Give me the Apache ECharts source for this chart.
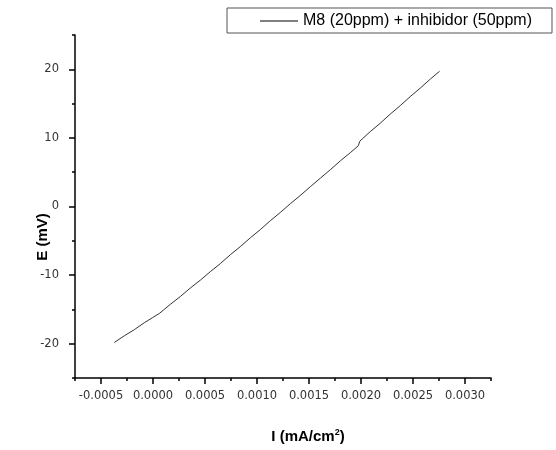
<!DOCTYPE html>
<html>
<head>
<meta charset="utf-8">
<script src="https://cdn.jsdelivr.net/npm/echarts@6/dist/echarts.min.js"></script>
<style>
  html, body { margin: 0; padding: 0; background: #fff; }
  #chart { width: 556px; height: 450px; }
</style>
</head>
<body>
<div id="chart"></div>
<script>
// Polarisation curve: current density (mA/cm²) vs potential (mV)
const seriesName = 'M8 (20ppm) + inhibidor (50ppm)';

const currentDensity = [
  -0.000372, -0.000276, -0.000180, -0.000084, -0.000007, 0.000061,
  0.000166, 0.000263, 0.000359, 0.000455, 0.000551, 0.000647,
  0.000743, 0.000839, 0.000936, 0.001032, 0.001128, 0.001224,
  0.001320, 0.001416, 0.001513, 0.001609, 0.001705, 0.001801,
  0.001897, 0.001974, 0.001988, 0.002089, 0.002186, 0.002282,
  0.002378, 0.002474, 0.002570, 0.002666, 0.002756
];

const potential = [
  -19.82, -18.85, -17.96, -16.95, -16.22, -15.59,
  -14.27, -13.12, -11.88, -10.74, -9.50, -8.33,
  -7.04, -5.86, -4.56, -3.37, -2.07, -0.88,
  0.40, 1.60, 2.89, 4.13, 5.36, 6.65,
  7.84, 8.85, 9.51, 10.92, 12.15, 13.48,
  14.71, 16.03, 17.26, 18.57, 19.71
];

const xMajorTicks = [-0.0005, 0.0000, 0.0005, 0.0010, 0.0015, 0.0020, 0.0025, 0.0030];
const xMinorTicks = [-0.00075, -0.00025, 0.00025, 0.00075, 0.00125, 0.00175, 0.00225, 0.00275, 0.00325];
const yMajorTicks = [-20, -10, 0, 10, 20];
const yMinorTicks = [-25, -15, -5, 5, 15, 25];

const X_MIN = -0.00075, X_MAX = 0.00325;
const Y_MIN = -25, Y_MAX = 25;

const points = currentDensity.map((x, i) => [x, potential[i]]);

const FONT = '"Liberation Sans", Arial, sans-serif';
const TICK_FONT = '"DejaVu Sans", sans-serif';
const axisLineStyle = { color: '#000', width: 1.5 };

const chart = echarts.init(document.getElementById('chart'), null, { renderer: 'canvas' });

chart.setOption({
  animation: false,
  backgroundColor: '#fff',
  grid: { left: 75, top: 35, right: 65, bottom: 72, containLabel: false },
  legend: {
    left: 227,
    top: 8,
    padding: [5, 20, 4, 33],
    borderColor: '#555',
    borderWidth: 1,
    itemWidth: 38,
    itemHeight: 1,
    itemGap: 0,
    data: [{ name: seriesName, icon: 'rect', itemStyle: { color: '#000' } }],
    textStyle: { fontFamily: FONT, fontSize: 16, color: '#000' }
  },
  xAxis: [
    {
      type: 'value', min: X_MIN, max: X_MAX,
      axisLine: { onZero: false, lineStyle: axisLineStyle },
      axisTick: { show: true, inside: false, length: 6, customValues: xMajorTicks, lineStyle: { color: '#000', width: 1.5 } },
      axisLabel: {
        customValues: xMajorTicks, margin: 12,
        fontFamily: TICK_FONT, fontSize: 11.5, color: '#333',
        formatter: v => v.toFixed(4)
      },
      splitLine: { show: false }
    },
    {
      type: 'value', min: X_MIN, max: X_MAX, position: 'bottom',
      axisLine: { show: false, onZero: false },
      axisTick: { show: true, length: 3, customValues: xMinorTicks, lineStyle: { color: '#000', width: 1.5 } },
      axisLabel: { show: false },
      splitLine: { show: false }
    }
  ],
  yAxis: [
    {
      type: 'value', min: Y_MIN, max: Y_MAX,
      axisLine: { show: true, onZero: false, lineStyle: axisLineStyle },
      axisTick: { show: true, length: 6, customValues: yMajorTicks, lineStyle: { color: '#000', width: 1.5 } },
      axisLabel: {
        customValues: yMajorTicks, margin: 16,
        fontFamily: TICK_FONT, fontSize: 11.5, color: '#333'
      },
      splitLine: { show: false }
    },
    {
      type: 'value', min: Y_MIN, max: Y_MAX, position: 'left',
      axisLine: { show: false, onZero: false },
      axisTick: { show: true, length: 3, customValues: yMinorTicks, lineStyle: { color: '#000', width: 1.5 } },
      axisLabel: { show: false },
      splitLine: { show: false }
    }
  ],
  series: [
    {
      name: seriesName,
      type: 'line',
      data: points,
      xAxisIndex: 0,
      yAxisIndex: 0,
      symbol: 'none',
      smooth: false,
      lineStyle: { color: '#333', width: 1 }
    }
  ],
  graphic: [
    {
      type: 'text',
      x: 43, y: 237,
      rotation: Math.PI / 2,
      style: {
        text: 'E (mV)',
        font: 'bold 15px ' + FONT,
        fill: '#000',
        align: 'center',
        verticalAlign: 'middle'
      }
    },
    {
      type: 'text',
      x: 308, y: 437,
      style: {
        text: '{a|I (mA/cm}{s|2}{a|)}',
        fill: '#000',
        align: 'center',
        verticalAlign: 'middle',
        rich: {
          a: { font: 'bold 15px ' + FONT, fill: '#000' },
          s: { font: 'bold 9px ' + FONT, fill: '#000', verticalAlign: 'top', padding: [0, 0, 8, 0] }
        }
      }
    }
  ]
});
</script>
</body>
</html>
